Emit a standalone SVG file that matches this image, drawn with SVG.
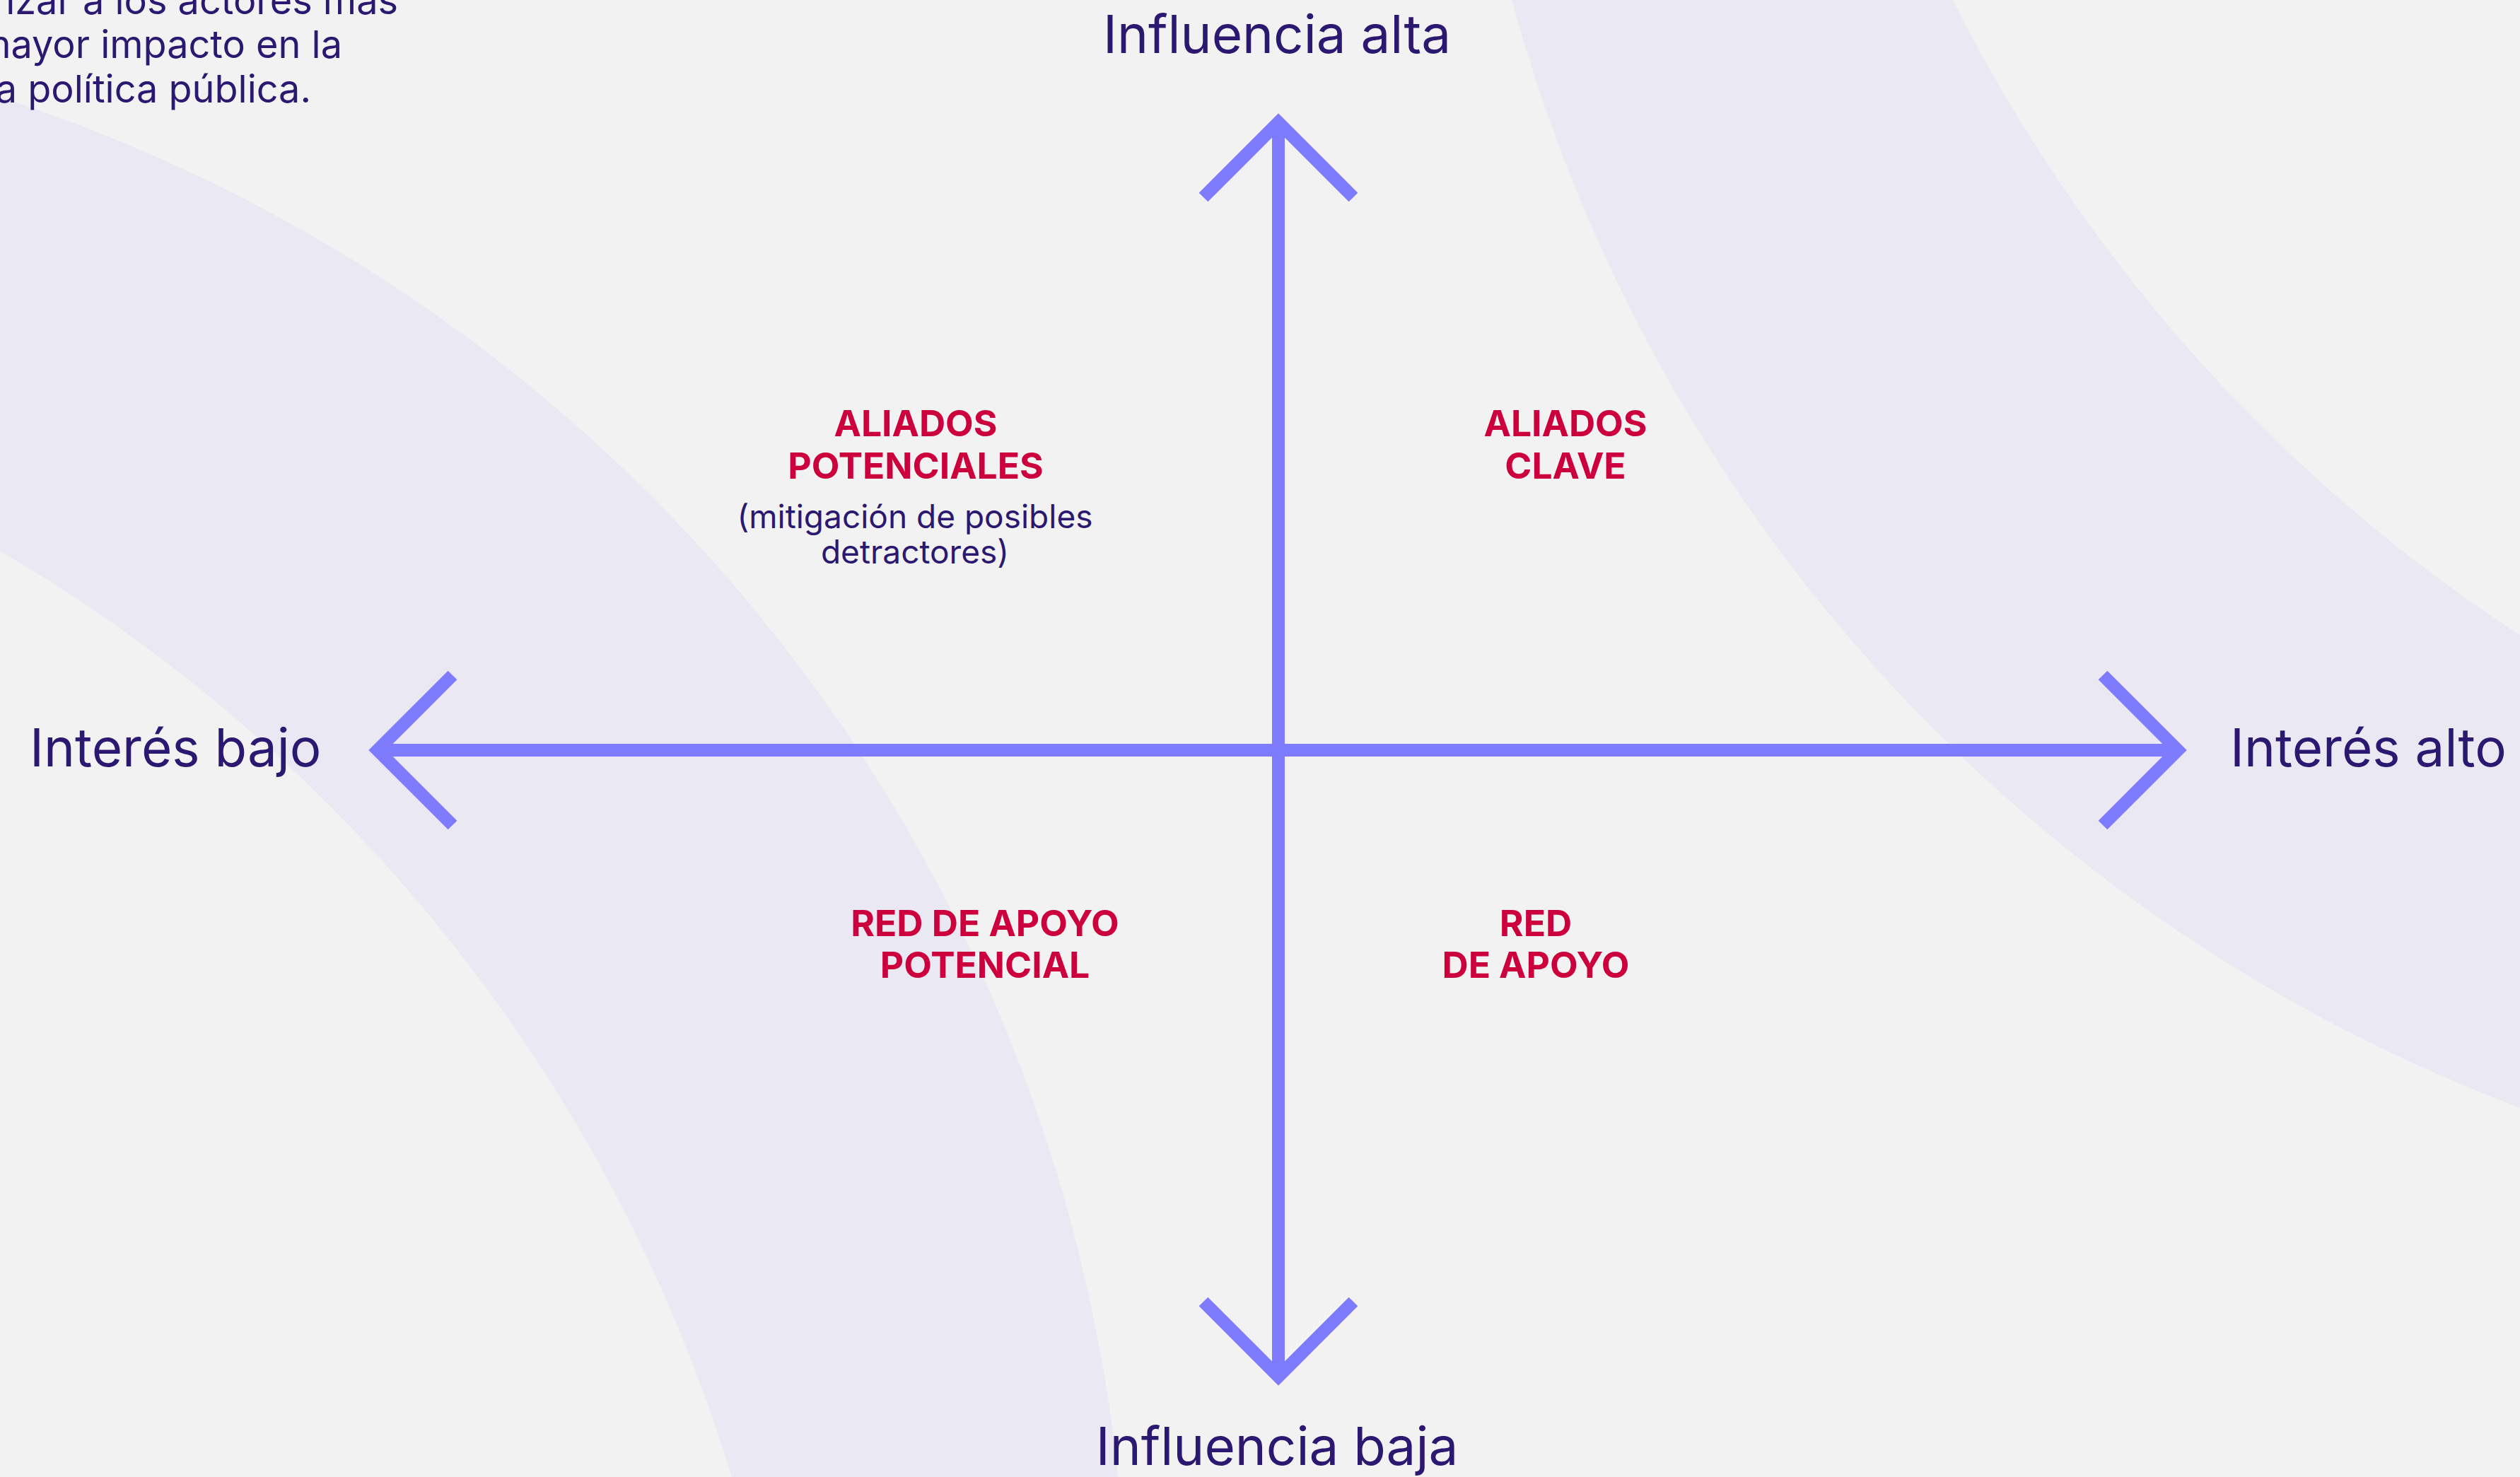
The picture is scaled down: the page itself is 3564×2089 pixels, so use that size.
<svg xmlns="http://www.w3.org/2000/svg" width="3564" height="2089" viewBox="0 0 3564 2089">
<style>
.band{fill:#eae8f2;fill-rule:evenodd}
.ax{fill:none;stroke:#7f7bff;stroke-width:18;stroke-linejoin:miter;stroke-miterlimit:10;stroke-linecap:butt}
.lbl{font-family:Inter,"Noto Sans",sans-serif;fill:#2b1870;font-size:74.5px}
.q{font-family:Inter,"Noto Sans",sans-serif;fill:#cc003d;font-size:51.5px;font-weight:700;text-anchor:middle}
.sub{font-family:Inter,"Noto Sans",sans-serif;fill:#2b1870;font-size:46px;text-anchor:middle}
.note{font-family:Inter,"Noto Sans",sans-serif;fill:#2b1870;font-size:54px;text-anchor:end}
</style>
<rect width="3564" height="2089" fill="#f2f2f2"/>
<g id="background">
<path class="band" d="M -3010 2328 A 2302 2302 0 1 0 1594 2328 A 2302 2302 0 1 0 -3010 2328 Z M -3442 2755 A 2288 2288 0 1 0 1134 2755 A 2288 2288 0 1 0 -3442 2755 Z"/>
<path class="band" d="M 2057 -609 A 2324 2324 0 1 0 6705 -609 A 2324 2324 0 1 0 2057 -609 Z M 2517 -1035 A 2309 2309 0 1 0 7135 -1035 A 2309 2309 0 1 0 2517 -1035 Z"/>
</g>
<g id="note">
<text class="note" x="563" y="20">rizar a los actores más</text>
<text class="note" x="484" y="82">mayor impacto en la</text>
<text class="note" x="440" y="145">a política pública.</text>
</g>
<g id="connectors">
<line class="ax" x1="1808" y1="173" x2="1808" y2="1947"/>
<line class="ax" x1="534" y1="1061" x2="3080" y2="1061"/>
<polyline class="ax" points="1702,279 1808,173 1914,279"/>
<polyline class="ax" points="1702,1841 1808,1947 1914,1841"/>
<polyline class="ax" points="640,955 534,1061 640,1167"/>
<polyline class="ax" points="2974,955 3080,1061 2974,1167"/>
</g>
<g id="influencia-alta"><text class="lbl" x="1806" y="75" text-anchor="middle">Influencia alta</text></g>
<g id="influencia-baja"><text class="lbl" x="1806" y="2072" text-anchor="middle">Influencia baja</text></g>
<g id="interes-bajo"><text class="lbl" x="42" y="1084">Interés bajo</text></g>
<g id="interes-alto"><text class="lbl" x="3154" y="1084">Interés alto</text></g>
<g id="aliados-potenciales">
<text class="q" x="1295" y="617">ALIADOS</text>
<text class="q" x="1295" y="677">POTENCIALES</text>
<text class="sub" x="1294" y="747">(mitigación de posibles</text>
<text class="sub" x="1294" y="797">detractores)</text>
</g>
<g id="aliados-clave">
<text class="q" x="2214" y="617">ALIADOS</text>
<text class="q" x="2214" y="677">CLAVE</text>
</g>
<g id="red-apoyo-potencial">
<text class="q" x="1393" y="1324">RED DE APOYO</text>
<text class="q" x="1393" y="1383">POTENCIAL</text>
</g>
<g id="red-apoyo">
<text class="q" x="2172" y="1324">RED</text>
<text class="q" x="2172" y="1383">DE APOYO</text>
</g>
</svg>
